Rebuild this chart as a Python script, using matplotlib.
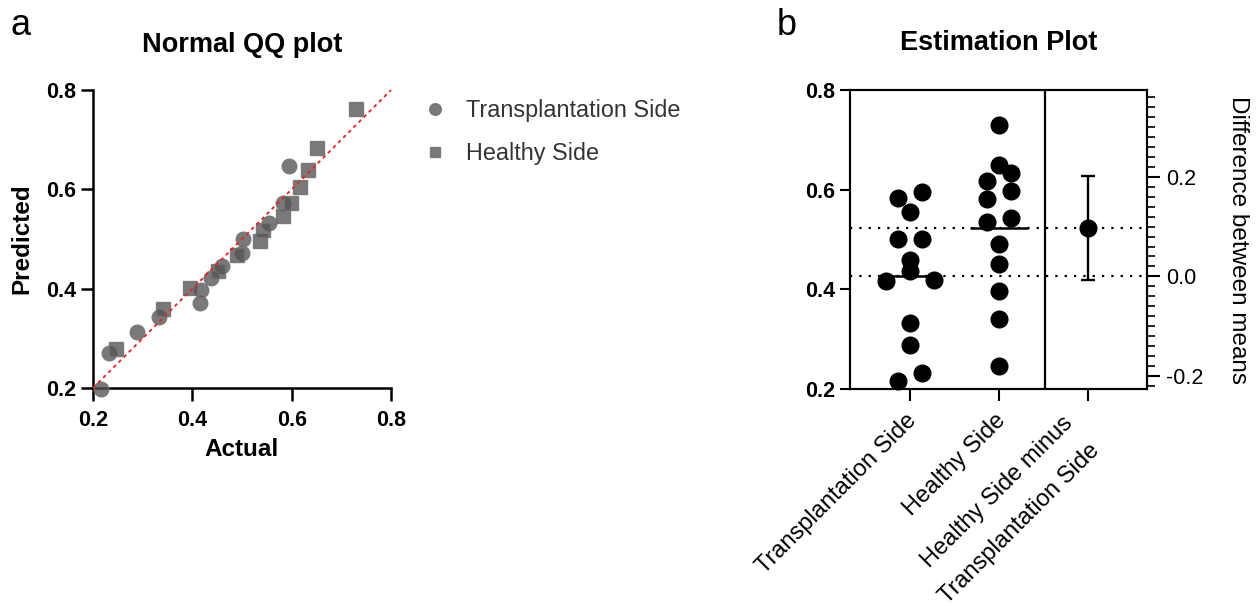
import numpy as np
import matplotlib
matplotlib.use("Agg")
import matplotlib.pyplot as plt
from matplotlib.ticker import MultipleLocator, FormatStrFormatter
import matplotlib.transforms as mtransforms

plt.rcParams['font.family'] = ['Liberation Sans', 'DejaVu Sans']
plt.rcParams['axes.unicode_minus'] = False

# ---------------- data ----------------
trans_actual = [0.217, 0.232, 0.289, 0.333, 0.416, 0.418, 0.437, 0.459, 0.501, 0.502, 0.555, 0.583, 0.595]
trans_pred   = [0.198, 0.270, 0.312, 0.343, 0.372, 0.398, 0.422, 0.446, 0.472, 0.500, 0.532, 0.573, 0.646]
healthy_actual = [0.246, 0.340, 0.396, 0.451, 0.490, 0.536, 0.543, 0.582, 0.598, 0.617, 0.633, 0.650, 0.729]
healthy_pred   = [0.279, 0.359, 0.402, 0.436, 0.467, 0.495, 0.519, 0.547, 0.573, 0.604, 0.639, 0.684, 0.761]

# Estimation plot
groups = ["Transplantation Side", "Healthy Side"]
group_values = [trans_actual, healthy_actual]
diff_label = "Healthy Side minus\nTransplantation Side"
diff_ci = [-0.007, 0.202]   # 95% CI of the difference

qq_ticks = [0.2, 0.4, 0.6, 0.8]
diff_ticks = [-0.2, 0.0, 0.2]


def swarm_offsets(values, thr, step):
    values = np.asarray(values, dtype=float)
    order = np.argsort(values)
    offsets = np.zeros(len(values))
    clusters, cur = [], [order[0]]
    for idx in order[1:]:
        if values[idx] - values[cur[0]] < thr:
            cur.append(idx)
        else:
            clusters.append(cur)
            cur = [idx]
    clusters.append(cur)
    for c in clusters:
        n = len(c)
        slots = (np.arange(n) - (n - 1) / 2) * step
        if n % 2 == 1 and n > 1:
            vals = values[c]
            iso = [min(abs(vals[i] - vals[j]) for j in range(n) if j != i) for i in range(n)]
            k = int(np.argmax(iso))
            rest = [c[i] for i in range(n) if i != k]
            mid = n // 2
            ordered = rest[:mid] + [c[k]] + rest[mid:]
        else:
            ordered = c
        for s, idx in zip(slots, ordered):
            offsets[idx] = s
    return offsets


W, H = 1260, 606
fig = plt.figure(figsize=(W / 100, H / 100), dpi=100)

# ---------------- panel a: QQ ----------------
ax1 = fig.add_axes([93 / W, 1 - 388 / H, 298 / W, 298 / H])
ax1.plot([0.2, 0.8], [0.2, 0.8], color='#ee2020', lw=1.3, ls=(0, (2, 2)), zorder=4, clip_on=False)
mk_face = (0.33, 0.33, 0.33, 0.78)
mk_edge = (0.45, 0.45, 0.45, 0.9)
h1, = ax1.plot(trans_actual, trans_pred, ls='none', marker='o', ms=10.5,
               mfc=mk_face, mec=mk_edge, mew=1.0, clip_on=False, zorder=3,
               label='Transplantation Side')
h2, = ax1.plot(healthy_actual, healthy_pred, ls='none', marker='s', ms=9.6,
               mfc=mk_face, mec=mk_edge, mew=1.0, clip_on=False, zorder=3,
               label='Healthy Side')
ax1.set_xlim(0.2, 0.8)
ax1.set_ylim(0.2, 0.8)
ax1.set_xticks(qq_ticks)
ax1.set_yticks(qq_ticks)
ax1.xaxis.set_major_formatter(FormatStrFormatter('%.1f'))
ax1.yaxis.set_major_formatter(FormatStrFormatter('%.1f'))
for s in ['top', 'right']:
    ax1.spines[s].set_visible(False)
for s in ['left', 'bottom']:
    ax1.spines[s].set_linewidth(1.8)
ax1.tick_params(direction='out', length=9, width=1.8, labelsize=15.5, pad=3)
ax1.tick_params(axis='x', pad=7)
for lbl in ax1.get_xticklabels() + ax1.get_yticklabels():
    lbl.set_fontweight('bold')
ax1.set_xlabel('Actual', fontsize=17.5, fontweight='bold', labelpad=5)
ax1.set_ylabel('Predicted', fontsize=17.5, fontweight='bold', labelpad=9)
ax1.set_title('Normal QQ plot', fontsize=19.5, fontweight='bold', pad=27)

leg = fig.legend(handles=[h1, h2], loc='upper left',
                 bbox_to_anchor=(423 / W, 1 - 99 / H), frameon=False,
                 fontsize=16.8, handlelength=1.0, handletextpad=0.85,
                 labelspacing=0.85, borderpad=0, borderaxespad=0, markerscale=0.8)
for t in leg.get_texts():
    t.set_color('#333333')

# ---------------- panel b: estimation ----------------
ax2 = fig.add_axes([850 / W, 1 - 389 / H, 297 / W, 299 / H])
ax2.set_xlim(-0.674, 2.663)
ax2.set_ylim(0.2, 0.8)
means = []
for i, vals in enumerate(group_values):
    offs = swarm_offsets(vals, 0.025, 0.27)
    ax2.plot(i + offs, vals, ls='none', marker='o', ms=12, color='black',
             clip_on=False, zorder=3)
    m = float(np.mean(vals))
    means.append(m)
    ax2.hlines(m, i - 0.33, i + 0.33, color='black', lw=1.8, zorder=4)
    ax2.axhline(m, color='black', lw=1.6, ls=(0, (1, 3.2)), zorder=2)
ax2.axvline(1.517, color='black', lw=1.6, zorder=2)

ax2.set_xticks([0, 1, 2])
ax2.set_xticklabels(groups + [diff_label], rotation=45, ha='right',
                    va='center', rotation_mode='anchor', fontsize=17,
                    linespacing=1.95)
ax2.set_yticks(qq_ticks)
ax2.yaxis.set_major_formatter(FormatStrFormatter('%.1f'))
for lbl in ax2.get_yticklabels():
    lbl.set_fontweight('bold')
ax2.tick_params(axis='y', direction='out', length=7.5, width=1.5, labelsize=15.5, pad=3)
ax2.tick_params(axis='x', direction='out', length=8.5, width=1.5, pad=12)
xt = ax2.get_xticklabels()
shifts_px = [(3, 0), (3, 0), (-5, -16)]
for lbl, (dx, dy) in zip(xt, shifts_px):
    lbl.set_transform(lbl.get_transform() +
                      mtransforms.ScaledTranslation(dx / 100, dy / 100, fig.dpi_scale_trans))
for s in ax2.spines.values():
    s.set_linewidth(1.5)
ax2.set_title('Estimation Plot', fontsize=19.5, fontweight='bold', pad=29)

ax3 = ax2.twinx()
ax3.set_ylim(0.2 - means[0], 0.8 - means[0])
diff = means[1] - means[0]
ax3.errorbar([2], [diff], yerr=[[diff - diff_ci[0]], [diff_ci[1] - diff]],
             fmt='o', color='black', ms=12, elinewidth=1.7, capsize=4.8,
             capthick=1.7, zorder=5)
ax3.set_yticks(diff_ticks)
ax3.yaxis.set_major_formatter(FormatStrFormatter('%.1f'))
ax3.yaxis.set_minor_locator(MultipleLocator(0.02))
ax3.tick_params(axis='y', which='major', direction='out', length=9.5, width=1.5,
                labelsize=15.5, pad=4)
ax3.tick_params(axis='y', which='minor', direction='out', length=5.5, width=1.2)
for s in ax3.spines.values():
    s.set_linewidth(1.5)
ax3.set_ylabel('Difference between means', rotation=270, va='bottom',
               fontsize=17.5, labelpad=17)

# panel letters
fig.text(10 / W, 1 - 35 / H, 'a', fontsize=26, va='baseline', ha='left')
fig.text(777 / W, 1 - 35 / H, 'b', fontsize=26, va='baseline', ha='left')

fig.savefig('out.png', dpi=100)
